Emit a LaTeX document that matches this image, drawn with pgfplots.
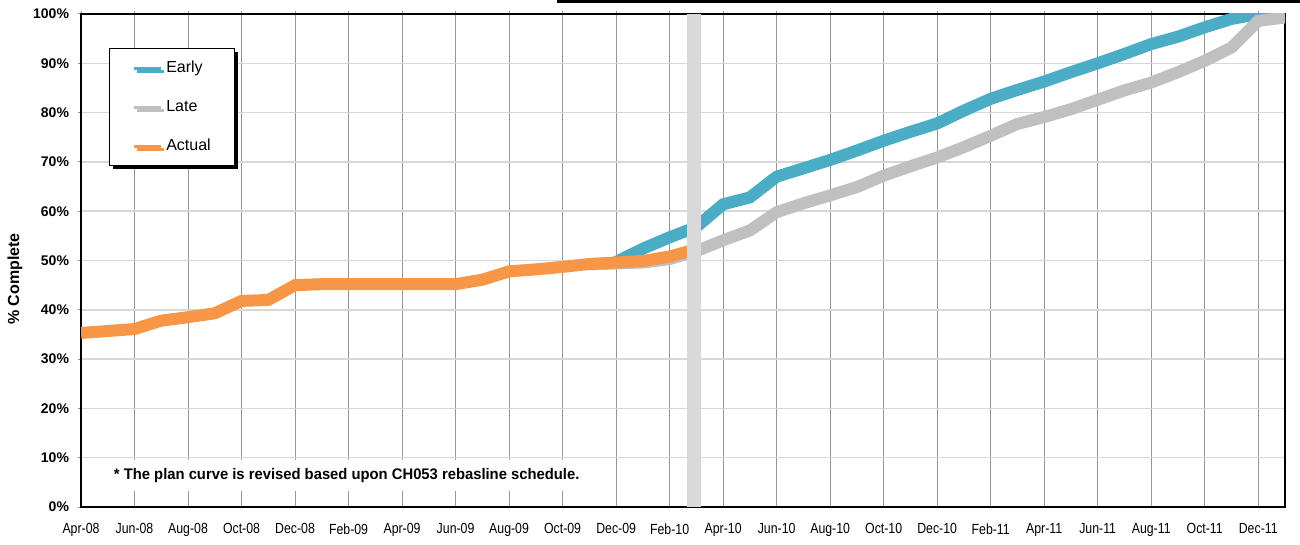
\documentclass[border=0pt]{standalone}
\usepackage{fontspec}
\setmainfont{Liberation Sans}
\newfontfamily\narrow[FakeStretch=0.84]{Liberation Sans}
\newfontfamily\notefont[FakeStretch=0.965]{Liberation Sans}
\usepackage{pgfplots}
\pgfplotsset{compat=1.18}
\usetikzlibrary{shadows}

\definecolor{earlycol}{RGB}{75,172,198}
\definecolor{latecol}{RGB}{192,192,192}
\definecolor{actualcol}{RGB}{247,150,70}
\definecolor{barcol}{RGB}{217,217,217}
\definecolor{vgrid}{RGB}{150,150,150}
\definecolor{hgrid}{RGB}{215,215,215}

\begin{document}
\begin{tikzpicture}
\useasboundingbox (0,0) rectangle (975pt,408pt);
% rule across the top of the page
\draw[line width=2.2pt] (417.75pt,406.9pt) -- (975pt,406.9pt);
% label on the value axis
\node[rotate=90, font=\bfseries\fontsize{12}{14}\selectfont] at (11.25pt,198.75pt) {\% Complete};
\begin{axis}[
  at={(60.75pt,27.75pt)}, anchor=south west,
  width=903pt, height=369.75pt, scale only axis,
  xmin=0, xmax=45, ymin=0, ymax=100,
  xtick={0,2,...,44},
  xticklabels={Apr-08,Jun-08,Aug-08,Oct-08,Dec-08,Feb-09,Apr-09,Jun-09,Aug-09,Oct-09,Dec-09,Feb-10,Apr-10,Jun-10,Aug-10,Oct-10,Dec-10,Feb-11,Apr-11,Jun-11,Aug-11,Oct-11,Dec-11},
  ytick={0,10,...,100},
  yticklabels={0\%,10\%,20\%,30\%,40\%,50\%,60\%,70\%,80\%,90\%,100\%},
  xtick pos=right, xticklabel pos=left,
  ytick pos=left,
  tick align=outside, major tick length=2.5pt,
  tick style={vgrid, line width=0.75pt},
  xticklabel style={font=\narrow\fontsize{11}{13}\selectfont, yshift=-6.5pt},
  yticklabel style={font=\bfseries\fontsize{10.5}{12}\selectfont, xshift=-3pt},
  xmajorgrids, ymajorgrids,
  major x grid style={vgrid, line width=0.75pt},
  major y grid style={hgrid, line width=1.1pt},
  axis line style={black, line width=1.9pt},
  legend style={
    at={(axis cs:1.05,93.1)}, anchor=north west,
    draw=black, line width=0.75pt, fill=white,
    drop shadow={fill=black, opacity=1, shadow xshift=2.6pt, shadow yshift=-2.6pt},
    font=\fontsize{12}{14}\selectfont,
    inner xsep=17pt, inner ysep=8pt,
    row sep=15.75pt, column sep=2pt,
    nodes={inner sep=1pt, text height=9pt, text depth=2.5pt},
    cells={anchor=west},
  },
  legend image code/.code={\draw[#1] (0pt,0pt) -- (20pt,0pt);},
  every legend image post/.style={line width=2.5pt},
  every axis plot/.append style={line width=9pt, line cap=butt},
]
% early plan
\addplot[earlycol] coordinates {
  (20,49.7) (21,52.4) (22,54.7) (23,56.8) (24,61.4) (25,62.8) (26,67.0)
  (27,68.7) (28,70.4) (29,72.3) (30,74.3) (31,76.1) (32,77.8) (33,80.4)
  (34,82.8) (35,84.6) (36,86.3) (37,88.2) (38,90.0) (39,91.9) (40,93.9)
  (41,95.4) (42,97.3) (43,99.0) (44,100) (45,100)
};
\addlegendentry{Early}
% late plan
\addplot[latecol] coordinates {
  (19,49.2) (20,49.4) (21,49.6) (22,50.3) (23,51.9) (24,54.1) (25,56.1)
  (26,59.8) (27,61.6) (28,63.2) (29,64.9) (30,67.2) (31,69.1) (32,70.9)
  (33,73.0) (34,75.3) (35,77.7) (36,79.1) (37,80.7) (38,82.6) (39,84.5)
  (40,86.1) (41,88.2) (42,90.5) (43,93.2) (44,98.6) (45,99.3)
};
\addlegendentry{Late}
% actual progress
\addplot[actualcol] coordinates {
  (0,35.3) (1,35.7) (2,36.1) (3,37.8) (4,38.5) (5,39.3) (6,41.8) (7,42.0)
  (8,45.0) (9,45.2) (10,45.2) (11,45.2) (12,45.2) (13,45.2) (14,45.2)
  (15,46.1) (16,47.8) (17,48.2) (18,48.7) (19,49.3) (20,49.6) (21,49.9)
  (22,50.8) (23,52.3)
};
\addlegendentry{Actual\hspace{3.5pt}}
% status date marker
\addplot[forget plot, barcol, line width=10.5pt] coordinates {(22.92,0) (22.92,100)};
\node[fill=white, inner xsep=3pt, inner ysep=6pt,
      font=\notefont\bfseries\fontsize{11.5}{13}\selectfont]
  at (axis cs:9.93,6.4) {* The plan curve is revised based upon CH053 rebasline schedule.};
\end{axis}
\end{tikzpicture}
\end{document}
